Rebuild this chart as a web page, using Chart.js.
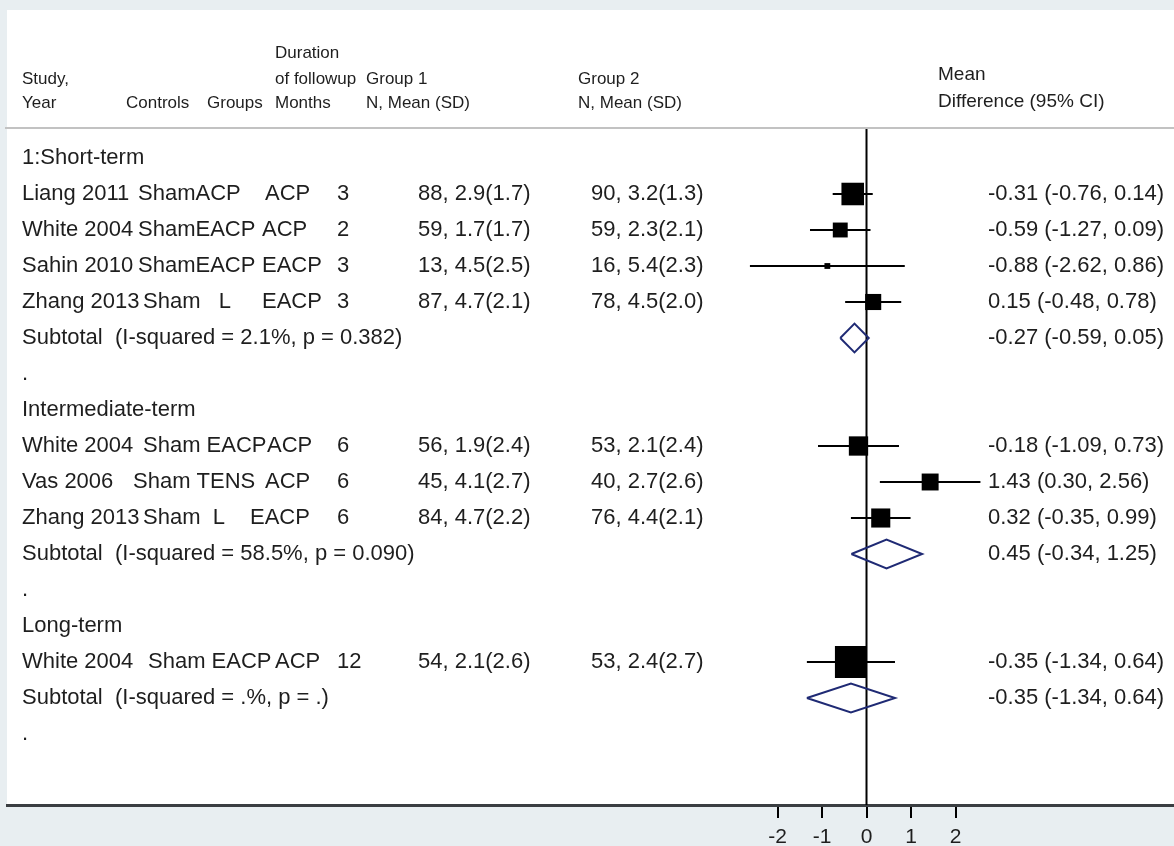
<!DOCTYPE html>
<html>
<head>
<meta charset="utf-8">
<script src="https://cdn.jsdelivr.net/npm/chart.js@4.4.1/dist/chart.umd.min.js"></script>
<style>
  html, body { margin: 0; padding: 0; background: #e8eef1; }
  canvas { display: block; }
</style>
</head>
<body>
<canvas id="forest" width="1174" height="846"></canvas>
<script>
// ---- Data ----
const sectionTitles = ['1:Short-term', 'Intermediate-term', 'Long-term'];
const studyNames = ['Liang 2011', 'White 2004', 'Sahin 2010', 'Zhang 2013', 'White 2004', 'Vas 2006', 'Zhang 2013', 'White 2004'];
const studyControls = ['ShamACP', 'ShamEACP', 'ShamEACP', 'Sham   L', 'Sham EACP', 'Sham TENS', 'Sham  L', 'Sham EACP'];
const studyGroups = ['ACP', 'ACP', 'EACP', 'EACP', 'ACP', 'ACP', 'EACP', 'ACP'];
const followupMonths = [3, 2, 3, 3, 6, 6, 6, 12];
const studySection = [0, 0, 0, 0, 1, 1, 1, 2];
const group1Stats = ['88, 2.9(1.7)', '59, 1.7(1.7)', '13, 4.5(2.5)', '87, 4.7(2.1)', '56, 1.9(2.4)', '45, 4.1(2.7)', '84, 4.7(2.2)', '54, 2.1(2.6)'];
const group2Stats = ['90, 3.2(1.3)', '59, 2.3(2.1)', '16, 5.4(2.3)', '78, 4.5(2.0)', '53, 2.1(2.4)', '40, 2.7(2.6)', '76, 4.4(2.1)', '53, 2.4(2.7)'];
const meanDiff = [-0.31, -0.59, -0.88, 0.15, -0.18, 1.43, 0.32, -0.35];
const ciLow = [-0.76, -1.27, -2.62, -0.48, -1.09, 0.30, -0.35, -1.34];
const ciHigh = [0.14, 0.09, 0.86, 0.78, 0.73, 2.56, 0.99, 0.64];
const studyWeight = [49.6, 21.7, 3.3, 25.3, 36.4, 28.0, 35.6, 100];   // % within subgroup
const subtotalLabels = ['Subtotal  (I-squared = 2.1%, p = 0.382)', 'Subtotal  (I-squared = 58.5%, p = 0.090)', 'Subtotal  (I-squared = .%, p = .)'];
const subtotalMean = [-0.27, 0.45, -0.35];
const subtotalLow = [-0.59, -0.34, -1.34];
const subtotalHigh = [0.05, 1.25, 0.64];
const axisTicks = [-2, -1, 0, 1, 2];

// ---- Layout ----
const FONT = '"Liberation Sans", Arial, Helvetica, sans-serif';
const TEXT = '#1e1e1e';
const NAVY = '#1f2a74';
const controlX = [138, 138, 138, 143, 143, 133, 143, 148];
const groupX = [265, 262, 262, 262, 267, 265, 250, 275];
const COL = { study: 22, months: 337, g1: 418, g2: 591, effect: 988 };
const BOX_FULL = 32;          // side of a 100% weight box, px
const DIAMOND_HALF = 0.4;     // half height of a diamond, in rows

// Row index of every line of the table
const sectionRow = [], studyRow = [], subtotalRow = [], dotRow = [];
(function () {
  let r = 0;
  sectionTitles.forEach((_, s) => {
    sectionRow[s] = r++;
    studyNames.forEach((__, i) => { if (studySection[i] === s) studyRow[i] = r++; });
    subtotalRow[s] = r++;
    dotRow[s] = r++;
  });
})();

const fmt = v => v.toFixed(2);
const effectText = (m, lo, hi) => `${fmt(m)} (${fmt(lo)}, ${fmt(hi)})`;

// ---- Datasets ----
const datasets = [];
studyNames.forEach((_, i) => {
  datasets.push({
    type: 'scatter', showLine: true,
    data: [{ x: ciLow[i], y: studyRow[i] }, { x: ciHigh[i], y: studyRow[i] }],
    borderColor: '#000', borderWidth: 2, pointRadius: 0, order: 2
  });
});
datasets.push({
  type: 'scatter',
  data: meanDiff.map((m, i) => ({ x: m, y: studyRow[i] })),
  pointStyle: 'rect',
  pointRadius: studyWeight.map(w => BOX_FULL * Math.sqrt(w / 100) / (2 * Math.SQRT1_2)),
  backgroundColor: '#000', borderColor: '#000', borderWidth: 0, order: 1
});
subtotalMean.forEach((m, s) => {
  const r = subtotalRow[s];
  datasets.push({
    type: 'scatter', showLine: true,
    data: [
      { x: subtotalLow[s], y: r }, { x: m, y: r - DIAMOND_HALF },
      { x: subtotalHigh[s], y: r }, { x: m, y: r + DIAMOND_HALF },
      { x: subtotalLow[s], y: r }
    ],
    borderColor: NAVY, borderWidth: 2, pointRadius: 0, tension: 0, fill: false, order: 1
  });
});

// ---- Plugins ----
const panelPlugin = {
  id: 'panel',
  beforeDraw(chart) {
    const { ctx, chartArea: a } = chart;
    ctx.save();
    ctx.fillStyle = '#ffffff';
    ctx.fillRect(a.left, a.top, a.right - a.left, a.bottom - a.top);
    ctx.restore();
  },
  beforeDatasetsDraw(chart) {
    const { ctx, chartArea: a, scales } = chart;
    const x0 = scales.x.getPixelForValue(0);
    ctx.save();
    // header rule
    ctx.strokeStyle = '#c2c2c2';
    ctx.lineWidth = 2;
    ctx.beginPath();
    ctx.moveTo(a.left - 2, 128); ctx.lineTo(a.right, 128);
    ctx.stroke();
    // line of no effect
    ctx.strokeStyle = '#000';
    ctx.lineWidth = 2;
    ctx.beginPath();
    ctx.moveTo(x0, 129); ctx.lineTo(x0, a.bottom);
    ctx.stroke();
    ctx.restore();
  },
  afterDraw(chart) {
    const { ctx, scales } = chart;
    const yp = r => scales.y.getPixelForValue(r);
    ctx.save();
    ctx.fillStyle = TEXT;
    ctx.textAlign = 'left';

    // column headers
    ctx.textBaseline = 'alphabetic';
    ctx.font = `17px ${FONT}`;
    ctx.fillText('Study,', COL.study, 84);
    ctx.fillText('Year', COL.study, 108);
    ctx.fillText('Controls', 126, 108);
    ctx.fillText('Groups', 207, 108);
    ctx.fillText('Duration', 275, 58);
    ctx.fillText('of followup', 275, 84);
    ctx.fillText('Months', 275, 108);
    ctx.fillText('Group 1', 366, 84);
    ctx.fillText('N, Mean (SD)', 366, 108);
    ctx.fillText('Group 2', 578, 84);
    ctx.fillText('N, Mean (SD)', 578, 108);
    ctx.font = `19px ${FONT}`;
    ctx.fillText('Mean', 938, 80);
    ctx.fillText('Difference (95% CI)', 938, 107);

    // table body
    ctx.textBaseline = 'middle';
    ctx.font = `22px ${FONT}`;
    sectionTitles.forEach((t, s) => {
      ctx.fillText(t, COL.study, yp(sectionRow[s]));
      ctx.fillText(subtotalLabels[s], COL.study, yp(subtotalRow[s]));
      ctx.fillText(effectText(subtotalMean[s], subtotalLow[s], subtotalHigh[s]), COL.effect, yp(subtotalRow[s]));
      ctx.fillText('.', COL.study, yp(dotRow[s]));
    });
    studyNames.forEach((n, i) => {
      const y = yp(studyRow[i]);
      ctx.fillText(n, COL.study, y);
      ctx.fillText(studyControls[i], controlX[i], y);
      ctx.fillText(studyGroups[i], groupX[i], y);
      ctx.fillText(String(followupMonths[i]), COL.months, y);
      ctx.fillText(group1Stats[i], COL.g1, y);
      ctx.fillText(group2Stats[i], COL.g2, y);
      ctx.fillText(effectText(meanDiff[i], ciLow[i], ciHigh[i]), COL.effect, y);
    });
    ctx.restore();
  }
};

// ---- Chart ----
new Chart(document.getElementById('forest'), {
  type: 'scatter',
  data: { datasets },
  options: {
    responsive: false,
    devicePixelRatio: 1,
    animation: false,
    events: [],
    layout: { autoPadding: false, padding: { left: 7, top: 10, right: 0, bottom: 0 } },
    plugins: { legend: { display: false }, tooltip: { enabled: false } },
    scales: {
      x: {
        type: 'linear',
        position: 'bottom',
        min: -19.315,
        max: 6.910,
        afterBuildTicks: s => { s.ticks = axisTicks.map(v => ({ value: v })); },
        afterFit: s => { s.height = 41; },
        grid: { drawOnChartArea: false, drawTicks: true, tickLength: 13, color: '#000', lineWidth: 2 },
        border: { display: true, color: '#3a3e42', width: 3 },
        ticks: {
          autoSkip: false, maxRotation: 0, padding: 7, color: TEXT,
          font: { family: FONT, size: 21 },
          callback: v => String(v)
        }
      },
      y: {
        type: 'linear',
        display: false,
        reverse: true,
        min: -4.111,
        max: 17.972
      }
    }
  },
  plugins: [panelPlugin]
});
</script>
</body>
</html>
